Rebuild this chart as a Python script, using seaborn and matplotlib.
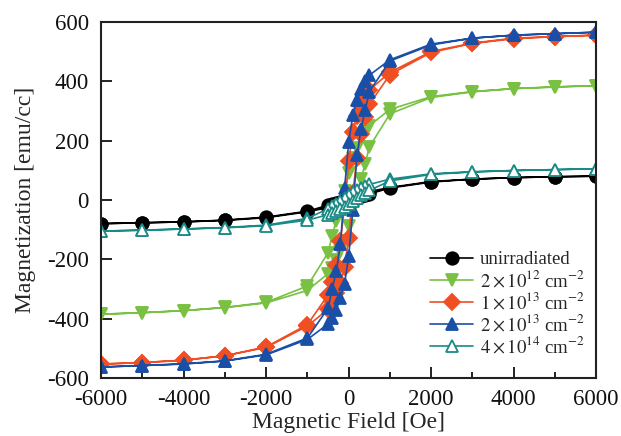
import pandas as pd
import seaborn as sns
import matplotlib
import matplotlib.pyplot as plt
from matplotlib.ticker import MultipleLocator

# Headless backend
matplotlib.use("Agg")

# Field steps: sweep down from +6000 Oe, then back up from -6000 Oe
fieldDown = [6000, 5000, 4000, 3000, 2000, 1000, 500, 400, 300, 200, 100, 0,
             -100, -200, -300, -400, -500, -1000, -2000, -3000, -4000, -5000, -6000]
fieldUp = [-6000, -5000, -4000, -3000, -2000, -1000, -500, -400, -300, -200, -100, 0,
           100, 200, 300, 400, 500, 1000, 2000, 3000, 4000, 5000, 6000]

# Magnetization [emu/cc], per sample, per sweep branch
unirrDown = [80, 78, 75, 70, 62, 42, 28, 24, 20, 15, 10, 4, -2, -6, -10, -14, -18, -38, -58, -68, -74, -77, -80]
unirrUp = [-80, -77, -74, -69, -60, -40, -26, -22, -18, -13, -8, -2, 4, 8, 12, 16, 20, 40, 60, 70, 75, 78, 80]

d2e12Down = [385, 380, 375, 365, 348, 305, 250, 230, 205, 175, 140, 90, 30, -20, -70, -120, -178, -290, -345, -362, -373, -380, -385]
d2e12Up = [-385, -380, -373, -363, -347, -305, -248, -228, -203, -173, -138, -88, -28, 22, 72, 122, 178, 290, 345, 364, 375, 381, 385]

d1e13Down = [555, 550, 545, 528, 500, 430, 370, 345, 318, 282, 228, 130, -20, -140, -220, -278, -320, -420, -495, -525, -540, -548, -553]
d1e13Up = [-553, -548, -540, -525, -497, -425, -368, -342, -315, -280, -225, -128, 22, 142, 222, 280, 322, 422, 497, 527, 543, 550, 555]

d2e13Down = [565, 560, 555, 545, 525, 472, 420, 400, 372, 335, 285, 195, 40, -150, -240, -300, -365, -465, -520, -542, -552, -558, -563]
d2e13Up = [-563, -558, -553, -543, -522, -470, -418, -398, -370, -330, -282, -190, -35, 150, 240, 302, 365, 468, 522, 545, 555, 560, 565]

d4e14Down = [105, 102, 99, 95, 88, 70, 52, 47, 40, 33, 25, 15, 5, -5, -14, -22, -30, -62, -85, -93, -98, -102, -105]
d4e14Up = [-105, -102, -98, -94, -87, -68, -50, -45, -38, -31, -23, -13, -3, 7, 16, 24, 32, 64, 86, 94, 99, 102, 105]

labels = ["unirradiated",
          r"$2\times10^{12}$ cm$^{\mathrm{-2}}$",
          r"$1\times10^{13}$ cm$^{\mathrm{-2}}$",
          r"$2\times10^{13}$ cm$^{\mathrm{-2}}$",
          r"$4\times10^{14}$ cm$^{\mathrm{-2}}$"]

# label, down branch, up branch, colour, marker, marker face
series = [
    (labels[0], unirrDown, unirrUp, "#000000", "o", "#000000"),
    (labels[1], d2e12Down, d2e12Up, "#7AC143", "v", "#7AC143"),
    (labels[2], d1e13Down, d1e13Up, "#F04E23", "D", "#F04E23"),
    (labels[3], d2e13Down, d2e13Up, "#1A4FA8", "^", "#1A4FA8"),
    (labels[4], d4e14Down, d4e14Up, "#1A8A86", "^", "white"),
]

sns.set_style("ticks")
plt.rcParams["font.family"] = ["Liberation Serif", "DejaVu Serif"]
plt.rcParams["mathtext.fontset"] = "stix"
plt.rcParams["axes.unicode_minus"] = False

fig = plt.figure(figsize=(6.21, 4.36), dpi=100)
ax = fig.add_axes([0.163, 0.133, 0.797, 0.817])

for label, down, up, color, marker, face in series:
    loop = pd.DataFrame({"H": fieldDown + fieldUp, "M": down + up})
    sns.lineplot(data=loop, x="H", y="M", sort=False, estimator=None, ax=ax,
                 color=color, linewidth=1.2, marker=marker, markersize=9 if marker != "D" else 8,
                 markerfacecolor=face, markeredgecolor=color, markeredgewidth=1.3,
                 label=label)

ax.set_xlim(-6000, 6000)
ax.set_ylim(-600, 600)
ax.xaxis.set_major_locator(MultipleLocator(2000))
ax.xaxis.set_minor_locator(MultipleLocator(1000))
ax.yaxis.set_major_locator(MultipleLocator(200))
ax.tick_params(which="both", direction="in", top=False, right=False, labelsize=16.5,
               width=1.3, colors="#111111")
ax.tick_params(axis="x", which="major", length=8, pad=8)
ax.tick_params(axis="y", which="major", length=8, pad=9)
ax.tick_params(which="minor", length=4)
for sp in ax.spines.values():
    sp.set_linewidth(1.5)
    sp.set_color("#222222")

ax.set_xlabel("Magnetic Field [Oe]", fontsize=17, labelpad=1)
ax.set_ylabel("Magnetization [emu/cc]", fontsize=17, labelpad=8)

ax.legend(loc="lower right", bbox_to_anchor=(1.0, 0.03), frameon=False, fontsize=13.5,
          handlelength=2.3, handletextpad=0.35, labelspacing=0.05, borderaxespad=0.2)

plt.savefig("out.png", dpi=100)
plt.close()
